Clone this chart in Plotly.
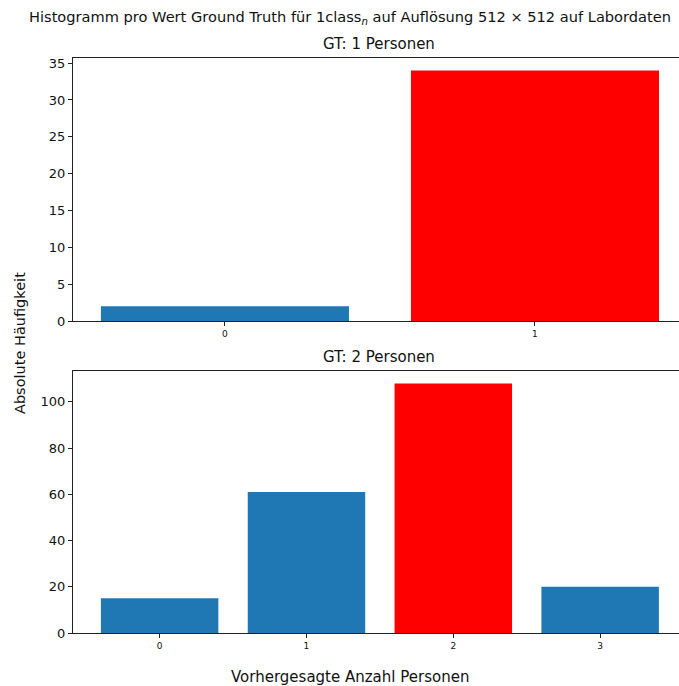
import plotly.graph_objects as go

# Data
top_categories = [0, 1]
top_values = [2, 34]
top_colors = ["#1f77b4", "#ff0000"]

bottom_categories = [0, 1, 2, 3]
bottom_values = [15, 61, 108, 20]
bottom_colors = ["#1f77b4", "#1f77b4", "#ff0000", "#1f77b4"]

top_yticks = [0, 5, 10, 15, 20, 25, 30, 35]
bottom_yticks = [0, 20, 40, 60, 80, 100]

FONT = "DejaVu Sans"

fig = go.Figure()
fig.add_trace(go.Bar(x=top_categories, y=top_values, marker_color=top_colors,
                     width=0.8, marker_line_width=0, xaxis="x", yaxis="y"))
fig.add_trace(go.Bar(x=bottom_categories, y=bottom_values, marker_color=bottom_colors,
                     width=0.8, marker_line_width=0, xaxis="x2", yaxis="y2"))

axis_common = dict(showline=True, linecolor="#222", linewidth=1, showgrid=False,
                   zeroline=False, ticks="outside", ticklen=4, tickcolor="#222")

fig.update_layout(
    width=679, height=686,
    margin=dict(l=73, r=0, t=58, b=53),
    plot_bgcolor="white", paper_bgcolor="white",
    showlegend=False,
    font=dict(family=FONT, color="#111"),
    xaxis=dict(domain=[0, 1], anchor="y", range=[-0.49, 1.4645],
               tickvals=top_categories, ticktext=[str(c) for c in top_categories],
               tickfont=dict(size=9), mirror=True, **axis_common),
    yaxis=dict(domain=[0.5426, 1], anchor="x", range=[0, 35.7],
               tickvals=top_yticks, tickfont=dict(size=13), **axis_common),
    xaxis2=dict(domain=[0, 1], anchor="y2", range=[-0.59, 3.537],
                tickvals=bottom_categories, ticktext=[str(c) for c in bottom_categories],
                tickfont=dict(size=9), mirror=True, **axis_common),
    yaxis2=dict(domain=[0, 0.4557], anchor="x2", range=[0, 113.4],
                tickvals=bottom_yticks, tickfont=dict(size=13), **axis_common),
    annotations=[
        dict(text="Histogramm pro Wert Ground Truth für 1class<sub><i>n</i></sub> auf Auflösung 512 × 512 auf Labordaten",
             x=(350 - 73) / 606, y=1, xref="paper", yref="paper", xanchor="center",
             yanchor="middle", yshift=41, showarrow=False,
             font=dict(size=14.6, family=FONT)),
        dict(text="GT: 1 Personen", x=(379 - 73) / 606, y=1, xref="paper", yref="paper",
             xanchor="center", yanchor="bottom", yshift=3, showarrow=False,
             font=dict(size=15, family=FONT)),
        dict(text="GT: 2 Personen", x=(379 - 73) / 606, y=0.4557, xref="paper", yref="paper",
             xanchor="center", yanchor="bottom", yshift=3, showarrow=False,
             font=dict(size=15, family=FONT)),
        dict(text="Absolute Häufigkeit", x=(20 - 73) / 606, y=(633 - 343) / 575,
             xref="paper", yref="paper", xanchor="center", yanchor="middle",
             textangle=-90, showarrow=False, font=dict(size=14.5, family=FONT)),
        dict(text="Vorhergesagte Anzahl Personen", x=(350 - 73) / 606, y=-44 / 575,
             xref="paper", yref="paper", xanchor="center", yanchor="middle",
             showarrow=False, font=dict(size=15, family=FONT)),
    ],
)

fig.write_html("out.html", config={"displayModeBar": False})

# remove default body margin so the figure sits at the window origin
with open("out.html", "r", encoding="utf-8") as f:
    html = f.read()
html = html.replace("<head>", "<head><style>html,body{margin:0;padding:0;overflow:hidden;}</style>", 1)
with open("out.html", "w", encoding="utf-8") as f:
    f.write(html)
